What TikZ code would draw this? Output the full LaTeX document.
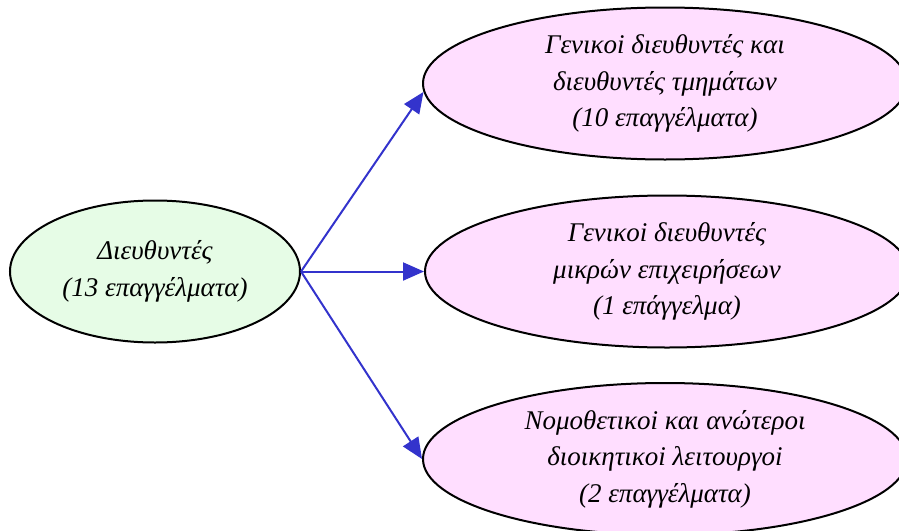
\documentclass[tikz,border=0pt]{standalone}
\usepackage{fontspec}
\setmainfont{Liberation Serif}
\usetikzlibrary{shapes.geometric,arrows.meta}
\definecolor{leftfill}{RGB}{230,252,230}
\definecolor{rightfill}{RGB}{255,222,255}
\definecolor{arrowblue}{RGB}{51,51,204}
\tikzset{
  oval/.style={ellipse, draw=black, line width=2pt, inner sep=0pt, align=center,
    font=\fontsize{27}{36.5}\selectfont\itshape},
  leftoval/.style={oval, fill=leftfill, minimum width=290pt, minimum height=142pt},
  rightoval/.style={oval, fill=rightfill, minimum width=484pt, minimum height=152pt},
  link/.style={draw=arrowblue, line width=2pt, -{Triangle[length=21pt,width=18pt]}}
}
\begin{document}
\begin{tikzpicture}[x=1pt,y=-1pt]
\useasboundingbox (0,0) rectangle (899,530);
\node[leftoval] (d) at (155,271.5) {Διευθυντές\\(13 επαγγέλματα)};
\node[rightoval] (t) at (665,83.5) {Γενικοi διευθυντές και\\διευθυντές τμημάτων\\(10 επαγγέλματα)};
\node[rightoval] (m) at (667,271.5) {Γενικοi διευθυντές\\μικρών επιχειρήσεων\\(1 επάγγελμα)};
\node[rightoval] (b) at (665,459) {Νομοθετικοi και ανώτεροι\\διοικητικοi λειτουργοi\\(2 επαγγέλματα)};
\draw[link] (d.east) -- (t.182.5);
\draw[link] (d.east) -- (m.west);
\draw[link] (d.east) -- (b.west);
\end{tikzpicture}
\end{document}
